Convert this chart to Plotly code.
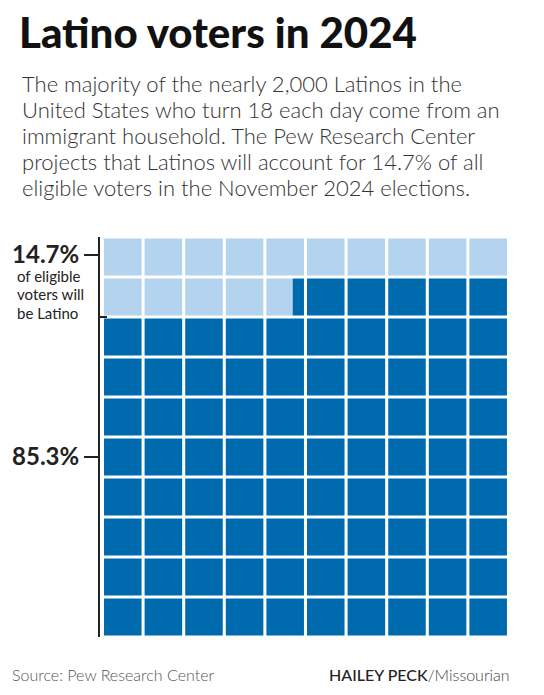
import plotly.graph_objects as go

# ---- data ----
pct_latino = 14.7            # share of eligible voters who are Latino
n_rows = 10
n_cols = 10
label_latino = f"{pct_latino:.1f}%"
label_other = f"{100 - pct_latino:.1f}%"
note_lines = ["of eligible", "voters will", "be Latino"]
title_text = "Latino voters in 2024"
subtitle_lines = [
    "The majority of the nearly 2,000 Latinos in the",
    "United States who turn 18 each day come from an",
    "immigrant household. The Pew Research Center",
    "projects that Latinos will account for 14.7% of all",
    "eligible voters in the November 2024 elections.",
]
source_text = "Source: Pew Research Center"
credit_name = "HAILEY PECK"
credit_org = "/Missourian"

# ---- style ----
LIGHT = "#B3D3EF"
DARK = "#006AAE"
FONT = "Lato"
OFF = 8                      # browser body margin
W, H = 544 - OFF, 695 - OFF
PL, PR, PT, PB = 100, 508, 237, 637   # plot area in page pixels
ML, MR, MT, MB = PL - OFF, OFF + W - PR, PT - OFF, OFF + H - PB
gx = 0.075   # horizontal gap (fraction of a cell)
gy = 0.075   # vertical gap
pitch = 40.6

# ---- build waffle cells ----
ly, lbase, llen = [], [], []
dy, dbase, dlen = [], [], []
for k in range(n_rows * n_cols):
    r, c = divmod(k, n_cols)
    frac = min(max(pct_latino - k, 0.0), 1.0)
    start = c + gx / 2
    full = 1 - gx
    if frac > 0:
        ly.append(r + 0.5); lbase.append(start); llen.append(frac * full)
    if frac < 1:
        dy.append(r + 0.5); dbase.append(start + frac * full); dlen.append((1 - frac) * full)

fig = go.Figure()
fig.add_trace(go.Bar(orientation="h", y=ly, x=llen, base=lbase, width=1 - gy,
                     marker=dict(color=LIGHT, line=dict(width=0)),
                     hoverinfo="skip", showlegend=False, name="Latino"))
fig.add_trace(go.Bar(orientation="h", y=dy, x=dlen, base=dbase, width=1 - gy,
                     marker=dict(color=DARK, line=dict(width=0)),
                     hoverinfo="skip", showlegend=False, name="Other", yaxis="y2"))

plot_w = PR - PL
plot_h = PB - PT


def px_x(px):
    return (px - PL) / plot_w


def px_y(py):
    return 1 - (py - PT) / plot_h


def top_for_baseline(b, size):
    return px_y(b - 1.1 * size)


xmin = gx / 2 - 4 / pitch
fig.update_layout(
    template="none",
    width=W, height=H,
    margin=dict(l=ML, r=MR, t=MT, b=MB, pad=0),
    paper_bgcolor="white", plot_bgcolor="white",
    barmode="overlay",
    font=dict(family=FONT, color="#222"),
    xaxis=dict(range=[xmin, xmin + plot_w / pitch], visible=False, fixedrange=True,
               automargin=False),
    yaxis=dict(range=[n_rows, 0], showgrid=False, zeroline=False, automargin=False,
               showline=True, linecolor="#222", linewidth=2,
               ticks="inside", tickvals=[0, 2, n_rows], ticklen=7, tickwidth=2,
               tickcolor="#222", showticklabels=False, fixedrange=True),
    yaxis2=dict(range=[n_rows, 0], overlaying="y", side="left", anchor="x",
                showgrid=False, zeroline=False, showline=False, automargin=False,
                ticks="outside", tickvals=[0.45, 5.5],
                ticktext=[label_latino, label_other],
                ticklen=15, tickwidth=2, tickcolor="#222",
                tickfont=dict(family=FONT, size=24, color="#222", weight="bold"),
                fixedrange=True),
)

ann = []
ann.append(dict(text=title_text, x=px_x(17), y=top_for_baseline(51, 42),
                xref="paper", yref="paper", xanchor="left", yanchor="top", showarrow=False,
                font=dict(family=FONT, size=42, color="#111", weight=900)))
for i, line in enumerate(subtitle_lines):
    ann.append(dict(text=line, x=px_x(20), y=top_for_baseline(92 + 26 * i, 22),
                    xref="paper", yref="paper", xanchor="left", yanchor="top",
                    align="left", showarrow=False,
                    font=dict(family=FONT, size=22, color="#333", weight=300)))
for i, line in enumerate(note_lines):
    ann.append(dict(text=line, x=px_x(15), y=top_for_baseline(281 + 18.5 * i, 15),
                    xref="paper", yref="paper", xanchor="left", yanchor="top",
                    align="left", showarrow=False,
                    font=dict(family=FONT, size=15, color="#222")))
ann.append(dict(text=source_text, x=px_x(10), y=top_for_baseline(681, 16),
                xref="paper", yref="paper", xanchor="left", yanchor="top", showarrow=False,
                font=dict(family=FONT, size=16, color="#555", weight=300)))
ann.append(dict(text=f"<span style='font-weight:500;color:#222'>{credit_name}</span>{credit_org}",
                x=px_x(512), y=top_for_baseline(681, 16), xref="paper", yref="paper",
                xanchor="right", yanchor="top", showarrow=False,
                font=dict(family=FONT, size=16, color="#444", weight=300)))
fig.update_layout(annotations=ann)

fig.write_html("out.html")
